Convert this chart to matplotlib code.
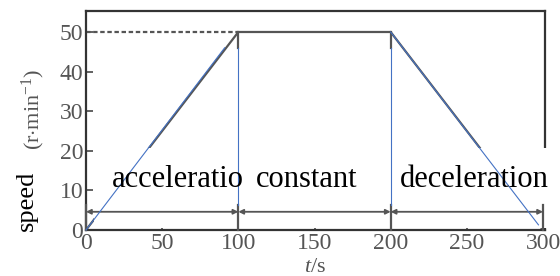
import matplotlib
matplotlib.use('Agg')
import matplotlib.pyplot as plt
from matplotlib.patches import Rectangle

plt.rcParams['font.family'] = ['Liberation Serif', 'DejaVu Serif']
plt.rcParams['mathtext.fontset'] = 'custom'
plt.rcParams['mathtext.rm'] = 'Liberation Serif'
plt.rcParams['mathtext.it'] = 'Liberation Serif:italic'

# speed profile (gray trapezoid)
t_profile = [0, 100, 200, 300]
v_profile = [0, 50, 50, 0]

# blue overlay lines
acc_t = [0, 91]
acc_v = [0, 46]
dec_t = [200, 297]
dec_v = [50, 1.3]
mark_t = [100, 200]
mark_v = [6.3, 46]

# phases
phase_edges = [0, 100, 200, 300]
arrow_level = 4.6
phase_names = ['acceleratio', 'constant', 'deceleration']
name_x = [17, 111.5, 206]
name_y = 10.9

xticks = [0, 50, 100, 150, 200, 250, 300]
yticks = [0, 10, 20, 30, 40, 50]

gray = '#555555'
blue = '#4472C4'

fig = plt.figure(figsize=(5.6, 2.76), dpi=100)
ax = fig.add_axes([86/560, 46/276, 459/560, 219/276])
ax.set_xlim(0, 301.3)
ax.set_ylim(0, 55.3)

ax.plot(t_profile, v_profile, color=gray, lw=1.6, zorder=2)
ax.plot([0, 100], [50, 50], color=gray, lw=1.6, ls=(0, (2, 1.2)), zorder=2)
for t in mark_t:
    ax.plot([t, t], [mark_v[1], 50], color=gray, lw=1.6, zorder=2)

# white band behind the phase names (hides the lower part of the gray lines)
band = Rectangle((5, 0.4), 320, 20.3, facecolor='white', edgecolor='none',
                 zorder=3, clip_on=False)
ax.add_patch(band)

# short stubs below the arrows
for t in phase_edges:
    ax.plot([t, t], [0, mark_v[0]], color=gray, lw=1.6, zorder=3.5,
            clip_on=False)

ax.plot(acc_t, acc_v, color=blue, lw=0.8, zorder=4, clip_on=False)
ax.plot(dec_t, dec_v, color=blue, lw=0.8, zorder=4, clip_on=False)
for t in mark_t:
    ax.plot([t, t], mark_v, color=blue, lw=0.8, zorder=4)

for a, b in zip(phase_edges[:-1], phase_edges[1:]):
    ax.annotate('', xy=(b, arrow_level), xytext=(a, arrow_level),
                arrowprops=dict(arrowstyle='<|-|>', color=gray, lw=1.3,
                                mutation_scale=7, shrinkA=0, shrinkB=0),
                zorder=3.5)

for name, x in zip(phase_names, name_x):
    ax.text(x, name_y, name, fontsize=22, color='black', va='baseline',
            ha='left', zorder=5, clip_on=False)

ax.set_xticks(xticks)
ax.set_yticks(yticks)
ax.tick_params(direction='in', length=5, width=1.3, colors=gray,
               labelsize=17, pad=2)
for s in ax.spines.values():
    s.set_linewidth(1.6)
    s.set_color('#333333')

ax.set_xlabel('$\\it{t}$/s', fontsize=16, color=gray, labelpad=3)

fig.text(27/560, 1 - 201/276, 'speed', rotation=90, fontsize=19,
         ha='center', va='center')
fig.text(33/560, 1 - 109/276, '(r$\\cdot$min$^{-1}$)', rotation=90,
         fontsize=16, color=gray, ha='center', va='center')

fig.savefig('out.png', dpi=100)
